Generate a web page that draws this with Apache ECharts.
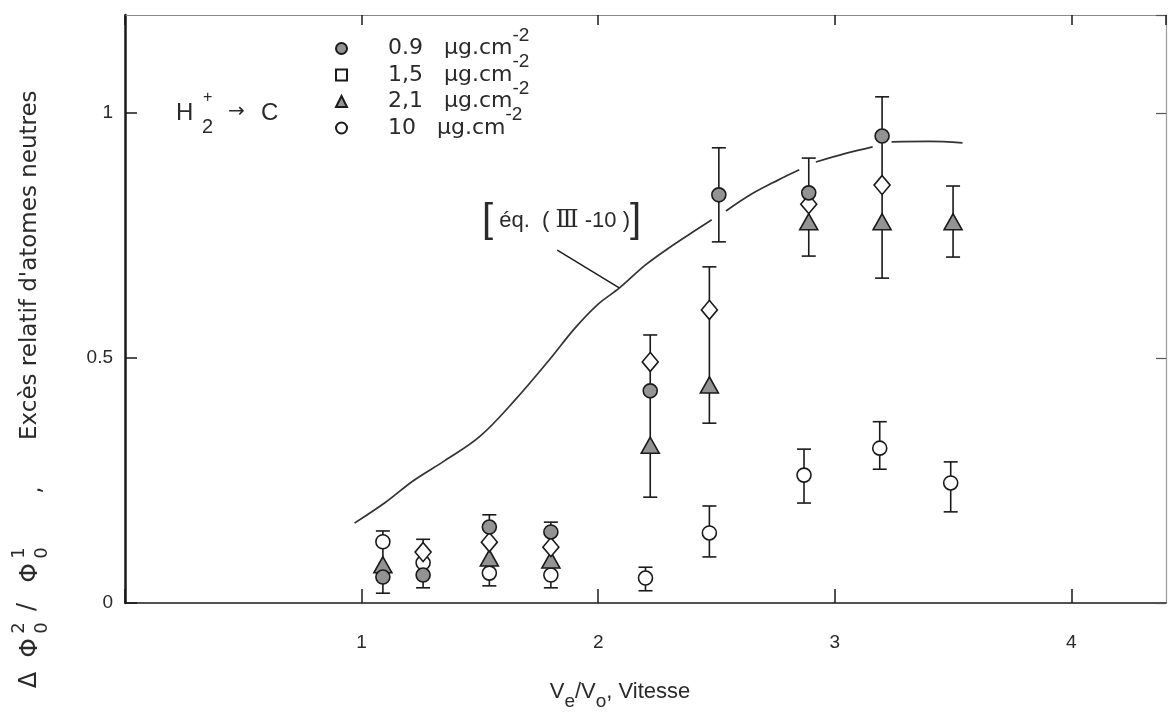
<!DOCTYPE html>
<html><head><meta charset="utf-8">
<script src="https://cdn.jsdelivr.net/npm/echarts@6/dist/echarts.min.js"></script>
<style>html,body{margin:0;padding:0;background:#fff}#c{width:1175px;height:721px}</style>
</head><body><div id="c"></div>
<script>
// ---- data ----
const seriesNames = ['0.9   µg.cm', '1,5   µg.cm', '2,1   µg.cm', '10   µg.cm'];
const s09 = [[1.09,0.053],[1.26,0.057],[1.54,0.155],[1.80,0.145],[2.22,0.433],[2.51,0.833],[2.89,0.837],[3.20,0.953]];
const s15 = [[1.26,0.104],[1.54,0.124],[1.80,0.114],[2.22,0.492],[2.47,0.598],[2.89,0.814],[3.20,0.853]];
const s21 = [[1.09,0.078],[1.54,0.092],[1.80,0.088],[2.22,0.322],[2.47,0.445],[2.89,0.778],[3.20,0.778],[3.50,0.778]];
const s10 = [[1.09,0.125],[1.26,0.082],[1.54,0.061],[1.80,0.057],[2.20,0.051],[2.47,0.143],[2.87,0.261],[3.19,0.316],[3.49,0.245]];
// [x, low, high]
const errorBars = [
  [1.09,0.020,0.147],[1.26,0.031,0.130],[1.54,0.035,0.180],[1.80,0.031,0.165],
  [2.20,0.025,0.073],[2.22,0.216,0.547],[2.47,0.094,0.198],[2.47,0.367,0.686],
  [2.51,0.737,0.929],[2.87,0.204,0.314],[2.89,0.708,0.908],[3.19,0.273,0.370],
  [3.20,0.663,1.033],[3.49,0.186,0.288],[3.50,0.706,0.851]
];
// theoretical curve eq. (III-10); null = gap in the drawn line
const curveX = [0.97,1.10,1.22,1.35,1.50,1.65,1.80,1.90,2.00,2.09,2.20,2.30,2.40,2.48,2.51,2.54,2.65,2.76,2.85,2.885,2.92,3.05,3.16,3.20,3.24,3.40,3.54];
const curveY = [0.163,0.205,0.250,0.290,0.340,0.415,0.500,0.560,0.610,0.643,0.690,0.725,0.757,0.782,null,0.800,0.835,0.863,0.884,null,0.900,0.918,0.931,null,0.941,0.942,0.939];
const leader = [[1.827,0.720],[2.089,0.643]];
const xTickLabels = ['1','2','3','4'];
const yTickLabels = ['0','0.5','1'];

// ---- chart ----
const chart = echarts.init(document.getElementById('c'));
const FONT = 'Liberation Sans';
const WIDE = 'DejaVu Sans';
const ink = '#1a1a1a';
const txt = '#2a2a2a';
const grayFill = '#939393';
const curveData = curveX.map((x, i) => [x, curveY[i] == null ? '-' : curveY[i]]);

const errSeries = {
  type: 'custom', name: 'err', z: 1, silent: true,
  data: errorBars,
  encode: { x: 0, y: [1, 2] },
  renderItem(params, api) {
    const x = api.value(0);
    const lo = api.coord([x, api.value(1)]);
    const hi = api.coord([x, api.value(2)]);
    const cap = 7;
    const st = { stroke: ink, lineWidth: 1.6 };
    return { type: 'group', children: [
      { type: 'line', shape: { x1: lo[0], y1: lo[1], x2: hi[0], y2: hi[1] }, style: st },
      { type: 'line', shape: { x1: lo[0]-cap, y1: lo[1], x2: lo[0]+cap, y2: lo[1] }, style: st },
      { type: 'line', shape: { x1: hi[0]-cap, y1: hi[1], x2: hi[0]+cap, y2: hi[1] }, style: st }
    ]};
  }
};

function sc(name, data, symbol, size, fill, z) {
  return { type: 'scatter', name, data, symbol, symbolSize: size, z,
    itemStyle: { color: fill, borderColor: ink, borderWidth: 1.6, opacity: 1 } };
}
function vt(x, y, text, size, align) {
  return { type: 'text', x, y, rotation: Math.PI / 2, z: 10,
    style: { text, fontSize: size, fontFamily: WIDE, fill: txt, align: align || 'center', verticalAlign: 'middle' } };
}

const option = {
  backgroundColor: '#fff',
  animation: false,
  grid: { left: 125, right: 9, top: 15, bottom: 118 },
  xAxis: [{
    type: 'value', min: 0, max: 4.4, interval: 1,
    axisLine: { show: true, lineStyle: { color: ink, width: 1.5 } },
    axisTick: { show: true, inside: true, length: 14, lineStyle: { color: ink, width: 1.5 } },
    axisLabel: { margin: 30, fontSize: 19, fontFamily: FONT, color: txt,
      formatter: v => (v >= 1 && v <= 4) ? xTickLabels[v - 1] : '', showMaxLabel: false },
    splitLine: { show: false }
  }, {
    type: 'value', position: 'top', min: 0, max: 4.4, interval: 1,
    axisLine: { show: true, onZero: false, lineStyle: { color: '#8a8a8a', width: 1.2 } },
    axisTick: { show: true, inside: true, length: 10, lineStyle: { color: ink, width: 1.5 } },
    axisLabel: { show: false }, splitLine: { show: false }
  }],
  yAxis: [{
    type: 'value', min: 0, max: 1.2, interval: 0.5,
    axisLine: { show: true, lineStyle: { color: ink, width: 2.5 } },
    axisTick: { show: true, inside: true, length: 12, lineStyle: { color: ink, width: 1.5 } },
    axisLabel: { margin: 12, fontSize: 19, fontFamily: FONT, color: txt, showMaxLabel: false,
      formatter: v => v === 0 ? yTickLabels[0] : v === 0.5 ? yTickLabels[1] : v === 1 ? yTickLabels[2] : '' },
    splitLine: { show: false }
  }, {
    type: 'value', position: 'right', min: 0, max: 1.2, interval: 0.5,
    axisLine: { show: true, onZero: false, lineStyle: { color: '#9a9a9a', width: 1.2 } },
    axisTick: { show: true, inside: true, length: 10, lineStyle: { color: '#555', width: 1.2 } },
    axisLabel: { show: false }, splitLine: { show: false }
  }],
  legend: {
    orient: 'vertical', left: 335, top: 26, itemGap: -7, padding: 0,
    itemWidth: 11, itemHeight: 11,
    data: [
      { name: seriesNames[0], icon: 'circle' },
      { name: seriesNames[1], icon: 'rect' },
      { name: seriesNames[2], icon: 'triangle' },
      { name: seriesNames[3], icon: 'circle' }
    ],
    formatter: name => '{a|' + name + '}{s|-2}',
    textStyle: {
      padding: [0, 0, 0, 36],
      rich: {
        a: { fontSize: 22, fontFamily: WIDE, color: txt },
        s: { fontSize: 19, fontFamily: FONT, color: txt, padding: [0, 0, 26, 0] }
      }
    }
  },
  series: [
    errSeries,
    {
      type: 'line', name: 'eq', data: curveData, smooth: 0.35, showSymbol: false, connectNulls: false,
      lineStyle: { color: '#333', width: 1.7 }, z: 2, silent: true,
      markLine: { silent: true, symbol: 'none', label: { show: false },
        lineStyle: { color: ink, width: 1.4, type: 'solid' },
        data: [[{ coord: leader[0] }, { coord: leader[1] }]] }
    },
    sc(seriesNames[3], s10, 'circle', 14, '#fff', 3),
    sc(seriesNames[2], s21, 'triangle', [18, 16], grayFill, 4),
    sc(seriesNames[1], s15, 'diamond', [16, 19], '#fff', 5),
    sc(seriesNames[0], s09, 'circle', 14, grayFill, 6)
  ],
  graphic: [
    { type: 'text', left: 482, top: 201, z: 10,
      style: { text: '{b|[}{t| éq.  ( }{r|Ⅲ}{t| -10 )}{b|]}', rich: {
        b: { fontSize: 40, fontFamily: FONT, fill: txt },
        t: { fontSize: 22, fontFamily: FONT, fill: txt },
        r: { fontSize: 24, fontFamily: 'DejaVu Serif', fill: txt } } } },
    { type: 'text', left: 176, top: 101, z: 10,
      style: { text: 'H', fontSize: 24, fontFamily: FONT, fill: txt } },
    { type: 'text', left: 203, top: 90, z: 10,
      style: { text: '+', fontSize: 16, fontFamily: FONT, fill: txt } },
    { type: 'text', left: 202, top: 117, z: 10,
      style: { text: '2', fontSize: 20, fontFamily: FONT, fill: txt } },
    { type: 'text', left: 228, top: 102, z: 10,
      style: { text: '→', fontSize: 20, fontFamily: WIDE, fill: txt } },
    { type: 'text', left: 261, top: 101, z: 10,
      style: { text: 'C', fontSize: 24, fontFamily: FONT, fill: txt } },
    // y-axis title (rotated, reads bottom-to-top)
    vt(30, 680, 'Δ', 24),
    vt(30, 648, 'Φ', 25),
    vt(19, 628, '2', 18),
    vt(42, 628, '0', 18),
    vt(28, 607, '/', 24),
    vt(30, 573, 'Φ', 25),
    vt(19, 553, '1', 18),
    vt(42, 553, '0', 18),
    vt(34, 490, ',', 23),
    vt(30, 440, 'Excès relatif d\'atomes neutres', 23, 'left'),
    { type: 'text', x: 620, y: 692, z: 10,
      style: { text: '{t|V}{sb|e}{t|/V}{sb|o}{t|, Vitesse}', align: 'center', verticalAlign: 'middle',
        rich: {
          t: { fontSize: 22, fontFamily: FONT, fill: txt },
          sb: { fontSize: 19, fontFamily: FONT, fill: txt, padding: [20, 0, 0, 0] }
        } } }
  ]
};
chart.setOption(option);
</script>
</body></html>
